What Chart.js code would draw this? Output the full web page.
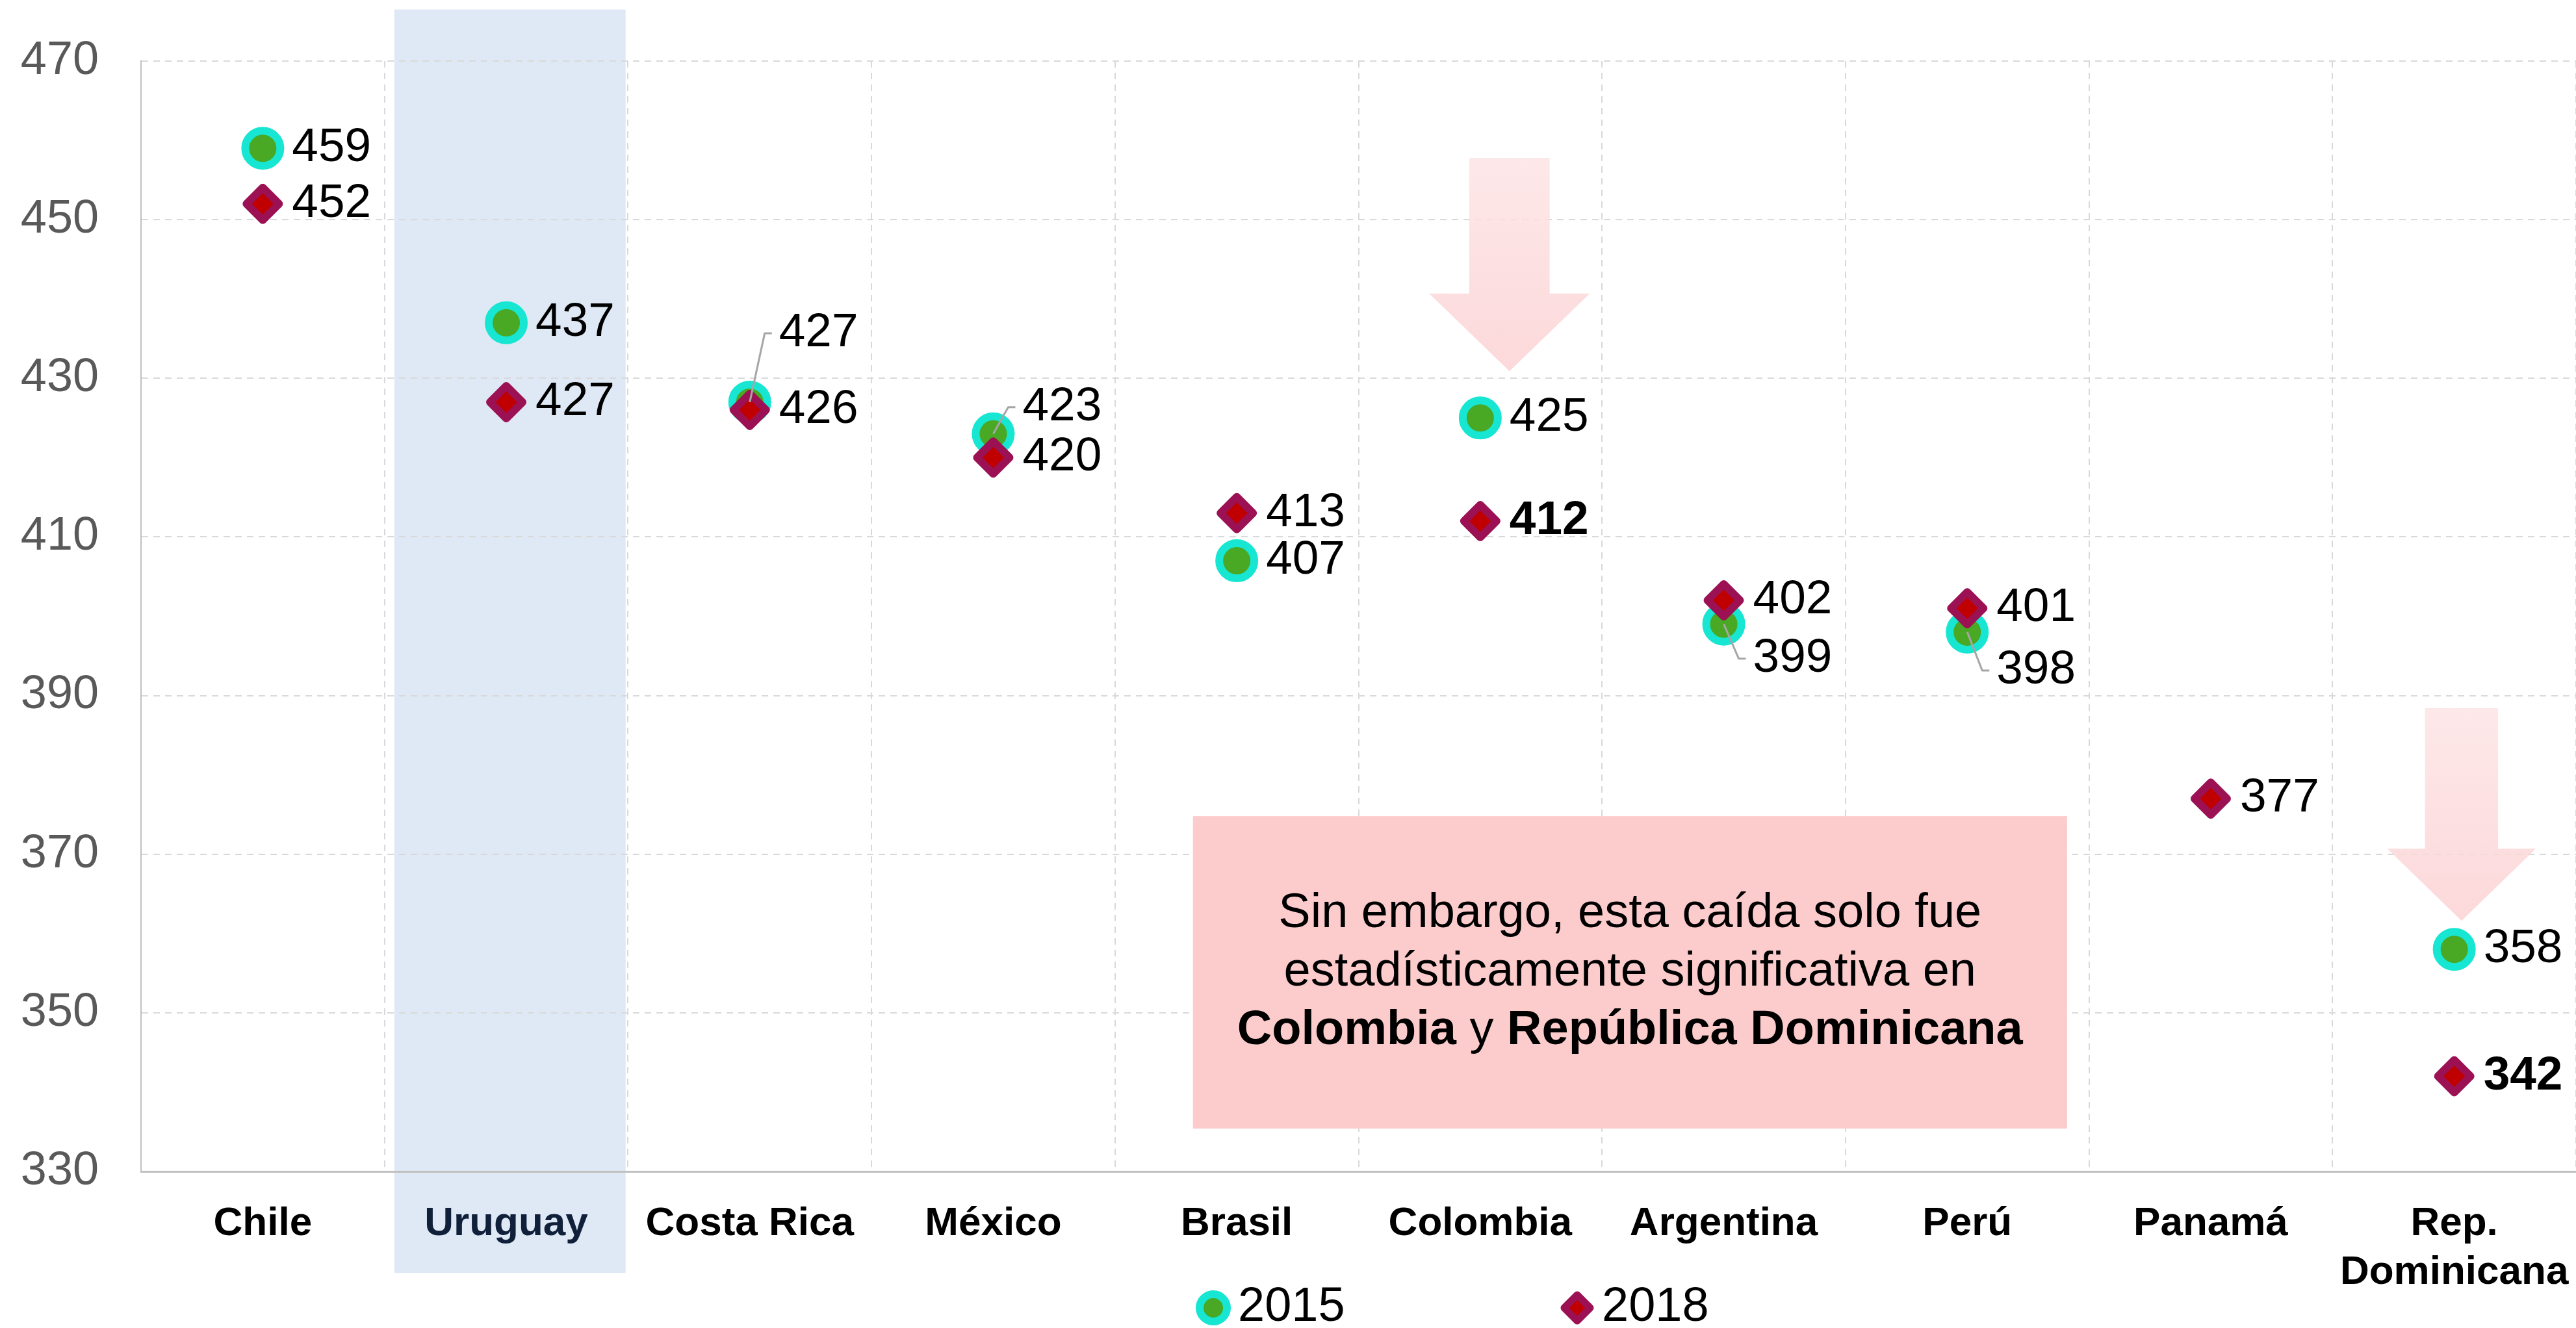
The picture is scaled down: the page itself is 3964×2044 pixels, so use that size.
<!DOCTYPE html>
<html>
<head>
<meta charset="utf-8">
<script src="https://cdn.jsdelivr.net/npm/chart.js@4.4.0/dist/chart.umd.min.js"></script>
<style>
  html, body { margin: 0; padding: 0; background: #fff; }
  canvas { display: block; }
</style>
</head>
<body>
<canvas id="pisaChart" width="3964" height="2044"></canvas>
<script>
const countries = ['Chile', 'Uruguay', 'Costa Rica', 'México', 'Brasil', 'Colombia', 'Argentina', 'Perú', 'Panamá', ['Rep.', 'Dominicana']];
const scores2015 = [459, 437, 427, 423, 407, 425, 399, 398, null, 358];
const scores2018 = [452, 427, 426, 420, 413, 412, 402, 401, 377, 342];
const yTicks = [330, 350, 370, 390, 410, 430, 450, 470];
const seriesNames = ['2015', '2018'];

const noteLines = ['Sin embargo, esta caída solo fue', 'estadísticamente significativa en'];
const noteLast = [['Colombia', true], [' y ', false], ['República Dominicana', true]];

// 2015 labels that were pushed away from the 2018 diamond (px, with leader line)
const nudge2015 = { 2: -106, 3: -41, 6: 53, 7: 59 };
// labels printed in bold: "dataset-index"
const boldLabels = ['1-5', '1-9'];

const FONT = '"Liberation Sans", Arial, sans-serif';
const f = (size, bold) => (bold ? 'bold ' : '') + size + 'px ' + FONT;

// arrows and boxes are given in axis units (category index / score)
const arrows = [
  { cx: 5.12, top: 457.8, neck: 440.7, tip: 430.9, head: 0.33, shaft: 0.165 },
  { cx: 9.03, top: 388.4, neck: 370.7, tip: 361.6, head: 0.305, shaft: 0.15 }
];
const noteBox = { x0: 3.82, x1: 7.41, y0: 374.8, y1: 335.4 };
const band = { x0: 0.54, x1: 1.49, y0: 476.5, y1: 317.2 };

const backdrop = {
  id: 'backdrop',
  beforeDraw(chart) {
    const { ctx, scales: { x, y } } = chart;
    ctx.save();
    ctx.fillStyle = '#DEE9F5';
    const bx = x.getPixelForValue(band.x0), bx1 = x.getPixelForValue(band.x1);
    const by = y.getPixelForValue(band.y0), by1 = y.getPixelForValue(band.y1);
    ctx.fillRect(bx, by, bx1 - bx, by1 - by);
    ctx.restore();
  },
  beforeDatasetsDraw(chart) {
    const { ctx, scales: { x, y } } = chart;
    const unit = x.getPixelForValue(1) - x.getPixelForValue(0);
    ctx.save();
    arrows.forEach(a => {
      const cx = x.getPixelForValue(a.cx);
      const top = y.getPixelForValue(a.top), neck = y.getPixelForValue(a.neck), tip = y.getPixelForValue(a.tip);
      const g = ctx.createLinearGradient(0, top, 0, tip);
      g.addColorStop(0, 'rgba(253,228,229,0.85)');
      g.addColorStop(1, 'rgba(252,210,212,0.85)');
      ctx.fillStyle = g;
      ctx.beginPath();
      ctx.moveTo(cx - a.shaft * unit, top);
      ctx.lineTo(cx + a.shaft * unit, top);
      ctx.lineTo(cx + a.shaft * unit, neck);
      ctx.lineTo(cx + a.head * unit, neck);
      ctx.lineTo(cx, tip);
      ctx.lineTo(cx - a.head * unit, neck);
      ctx.lineTo(cx - a.shaft * unit, neck);
      ctx.closePath();
      ctx.fill();
    });

    const nx = x.getPixelForValue(noteBox.x0), nx1 = x.getPixelForValue(noteBox.x1);
    const ny = y.getPixelForValue(noteBox.y0), ny1 = y.getPixelForValue(noteBox.y1);
    ctx.fillStyle = '#FCCBCB';
    ctx.fillRect(nx, ny, nx1 - nx, ny1 - ny);

    const mx = (nx + nx1) / 2, my = (ny + ny1) / 2;
    ctx.fillStyle = '#000';
    ctx.textBaseline = 'middle';
    ctx.textAlign = 'center';
    ctx.font = f(74);
    ctx.fillText(noteLines[0], mx, my - 90);
    ctx.fillText(noteLines[1], mx, my);
    let total = 0;
    noteLast.forEach(([t, b]) => { ctx.font = f(74, b); total += ctx.measureText(t).width; });
    let px = mx - total / 2;
    ctx.textAlign = 'left';
    noteLast.forEach(([t, b]) => {
      ctx.font = f(74, b);
      ctx.fillText(t, px, my + 90);
      px += ctx.measureText(t).width;
    });
    ctx.restore();
    ctx.lineJoin = 'round';
  },
  afterDatasetsDraw(chart) {
    const { ctx } = chart;
    ctx.save();
    ctx.textBaseline = 'middle';
    ctx.textAlign = 'left';
    chart.data.datasets.forEach((ds, di) => {
      const meta = chart.getDatasetMeta(di);
      meta.data.forEach((pt, i) => {
        const v = ds.data[i];
        if (v === null || v === undefined) return;
        const dy = di === 0 ? (nudge2015[i] || 0) : 0;
        const lx = pt.x + 45, ly = pt.y + dy;
        if (dy) {
          ctx.strokeStyle = '#A6A6A6';
          ctx.lineWidth = 3;
          ctx.beginPath();
          ctx.moveTo(pt.x, pt.y);
          ctx.lineTo(lx - 22, ly);
          ctx.lineTo(lx - 11, ly);
          ctx.stroke();
        }
        ctx.fillStyle = '#000';
        ctx.font = f(73, boldLabels.includes(di + '-' + i));
        ctx.fillText(String(v), lx, ly);
      });
    });
    ctx.restore();
  },
  afterDraw(chart) {
    const { ctx } = chart;
    const ly = 2013;
    const items = [[1867, 1905], [2427, 2465]];
    ctx.save();
    ctx.lineJoin = 'round';
    chart.data.datasets.forEach((ds, di) => {
      const [mx, tx] = items[di];
      ctx.fillStyle = ds.pointBackgroundColor;
      ctx.strokeStyle = ds.pointBorderColor;
      ctx.beginPath();
      if (ds.pointStyle === 'circle') {
        ctx.lineWidth = 12;
        ctx.arc(mx, ly, 21, 0, Math.PI * 2);
      } else {
        ctx.lineWidth = 11;
        ctx.moveTo(mx, ly - 20); ctx.lineTo(mx + 20, ly); ctx.lineTo(mx, ly + 20); ctx.lineTo(mx - 20, ly);
        ctx.closePath();
      }
      ctx.fill();
      ctx.stroke();
      ctx.fillStyle = '#000';
      ctx.font = f(74);
      ctx.textBaseline = 'middle';
      ctx.textAlign = 'left';
      ctx.fillText(ds.label, tx, ly);
    });
    ctx.restore();
  }
};

const ctx = document.getElementById('pisaChart').getContext('2d');

let pisaChart = new Chart(ctx, {
    type: 'line',
    data: {
        labels: countries,
        datasets: [{
            label: seriesNames[0],
            data: scores2015,
            showLine: false,
            pointStyle: 'circle',
            pointRadius: 27,
            pointHoverRadius: 27,
            pointBorderWidth: 12,
            pointBackgroundColor: '#49A824',
            pointBorderColor: '#17E6D2',
            order: 1
        }, {
            label: seriesNames[1],
            data: scores2018,
            showLine: false,
            pointStyle: 'rectRot',
            pointRadius: 25,
            pointHoverRadius: 25,
            pointBorderWidth: 12,
            pointBackgroundColor: '#C00000',
            pointBorderColor: '#9B1153',
            order: 0
        }]
    },
    options: {
        responsive: false,
        animation: false,
        devicePixelRatio: 1,
        layout: { autoPadding: false, padding: { top: 94, left: 0, right: 0, bottom: 0 } },
        plugins: {
            legend: { display: false },
            tooltip: { enabled: false }
        },
        scales: {
            x: {
                offset: true,
                grid: { offset: true, color: '#D9D9D9', lineWidth: 2, drawTicks: false },
                border: { color: '#BFBFBF', width: 3, dash: [10, 8] },
                ticks: {
                    font: { family: FONT, size: 62, weight: 'bold' },
                    color: c => c.index === 1 ? '#10203A' : '#000',
                    padding: 44,
                    maxRotation: 0,
                    autoSkip: false
                },
                afterFit(s) { s.height = 241; s.paddingLeft = 0; s.paddingRight = 0; }
            },
            y: {
                min: 330,
                max: 470,
                afterBuildTicks(s) { s.ticks = yTicks.map(v => ({ value: v })); },
                grid: { color: '#D9D9D9', lineWidth: 2, drawTicks: false },
                border: { color: '#BFBFBF', width: 2, dash: [10, 8] },
                ticks: {
                    font: { family: FONT, size: 72 },
                    color: '#595959',
                    padding: 65
                },
                afterFit(s) { s.width = 217; s.paddingTop = 0; s.paddingBottom = 0; }
            }
        }
    },
    plugins: [backdrop]
});
</script>
</body>
</html>
